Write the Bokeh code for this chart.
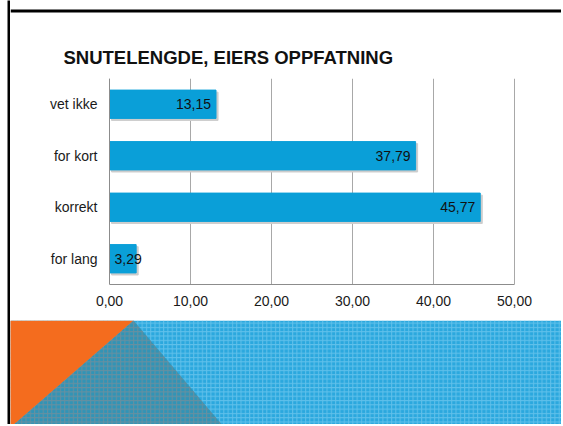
from bokeh.plotting import figure
from bokeh.layouts import row, column
from bokeh.models import Range1d, FixedTicker, ColumnDataSource, Span
from bokeh.core.properties import value
from bokeh.embed import file_html
from bokeh.resources import INLINE

categories = ["for lang", "korrekt", "for kort", "vet ikke"]
values = [3.29, 45.77, 37.79, 13.15]
value_labels = ["3,29", "45,77", "37,79", "13,15"]
x_ticks = [0, 10, 20, 30, 40, 50]
x_tick_labels = ["0,00", "10,00", "20,00", "30,00", "40,00", "50,00"]
title_text = "SNUTELENGDE, EIERS OPPFATNING"

BAR = "#0a9fd8"
FONT = "Liberation Sans"
TOTAL_W, TOTAL_H = 561, 424
PAD_L, LINE_W = 7, 3
FW = TOTAL_W - PAD_L - LINE_W          # width of the stacked figures
TOP_H, CHART_H = 73, 247
BAND_H = TOTAL_H - TOP_H - CHART_H
PLOT_L, PLOT_R = 99, 504               # pixel extent of the value axis inside the chart figure
XMIN, XMAX = 0, 50
PXU = (PLOT_R - PLOT_L) / (XMAX - XMIN)


def blank(w, h, xr, yr, color="white"):
    f = figure(width=w, height=h, output_backend="svg", toolbar_location=None,
               x_range=xr, y_range=yr, x_axis_location=None, y_axis_location=None,
               min_border=0)
    f.outline_line_color = None
    f.grid.visible = False
    f.border_fill_color = color
    f.background_fill_color = color
    return f


pad = blank(PAD_L, TOTAL_H, Range1d(0, 1), Range1d(0, 1), "white")
left_line = blank(LINE_W, TOTAL_H, Range1d(0, 1), Range1d(0, 1), "black")

# top strip with frame line and title
top = blank(FW, TOP_H, Range1d(0, FW), Range1d(TOP_H, 0))
top.quad(left=0, right=FW, top=9, bottom=12, fill_color="black", line_color=None)
top.text(x=[53], y=[56.7], text=[title_text], text_font=value(FONT), text_font_style="bold",
         text_font_size="18.5px", text_color="#111111", text_baseline="alphabetic",
         text_align="left")

# chart (frame spans the full width; value axis bounded to 0..50)
p = figure(width=FW, height=CHART_H, output_backend="svg", toolbar_location=None,
           x_range=Range1d(XMIN - PLOT_L / PXU, XMAX + (FW - PLOT_R) / PXU),
           y_range=Range1d(-0.5, len(categories) - 0.5), y_axis_location=None,
           min_border_left=0, min_border_right=0, min_border_top=5, min_border_bottom=36)
p.background_fill_color = "white"
p.border_fill_color = "white"
p.outline_line_color = None

ys = list(range(len(categories)))
anchor_x = [v if v >= 5 else 0 for v in values]
aligns = ["right" if v >= 5 else "left" for v in values]
offsets = [-5 if v >= 5 else 5 for v in values]
src = ColumnDataSource(dict(y=ys, v=values, lab=value_labels, ax=anchor_x, al=aligns, off=offsets,
                            cat=categories, zero=[0] * len(values),
                            ys=[y - 0.04 for y in ys], vs=[v + 0.25 for v in values]))

p.xaxis.ticker = FixedTicker(ticks=x_ticks)
p.xaxis.bounds = (XMIN, XMAX)
p.xaxis.major_label_overrides = {t: l for t, l in zip(x_ticks, x_tick_labels)}
p.xaxis.major_tick_line_color = None
p.xaxis.minor_tick_line_color = None
p.xaxis.major_tick_out = 0
p.xaxis.major_tick_in = 0
p.xaxis.axis_line_color = "#8c8c8c"
p.xaxis.major_label_text_font = FONT
p.xaxis.major_label_text_font_size = "14px"
p.xaxis.major_label_text_color = "#1a1a1a"
p.xaxis.major_label_standoff = 11
p.xgrid.ticker = FixedTicker(ticks=x_ticks)
p.xgrid.grid_line_color = "#a8a8a8"
p.ygrid.grid_line_color = None

p.add_layout(Span(location=XMIN, dimension="height", line_color="#8c8c8c", line_width=1))

p.hbar(y="ys", right="vs", left=0.25, height=0.55, source=src, color="#cdcdcd")
p.hbar(y="y", right="v", left=0, height=0.55, source=src, color=BAR)
p.text(x="ax", y="y", text="lab", text_align="al", x_offset="off", source=src,
       text_baseline="middle", text_font=value(FONT), text_font_size="14px", text_color="#111111")
# category labels
p.text(x="zero", y="y", text="cat", text_align="right", x_offset=-12, source=src,
       text_baseline="middle", text_font=value(FONT), text_font_size="14px", text_color="#1a1a1a")

# decorative band
band = blank(FW, BAND_H, Range1d(0, FW), Range1d(BAND_H, 0))
band.quad(left=0, right=FW, top=0, bottom=BAND_H, fill_color="#2ba8de", line_color=None,
          hatch_pattern="+", hatch_color="#76caef", hatch_scale=4.3, hatch_weight=1, hatch_alpha=0.7)
band.patch(x=[123, 1, 213], y=[0, 106, 106], fill_color="#3194b6", line_color=None,
           hatch_pattern="+", hatch_color="#7f8d95", hatch_scale=4.3, hatch_weight=1, hatch_alpha=0.7)
band.patch(x=[-5, 123, 1, -5], y=[0, 0, 106, 106], fill_color="#f46c1e", line_color=None)

layout = row(pad, left_line, column(top, p, band))
open("out.html", "w").write(file_html(layout, INLINE))
